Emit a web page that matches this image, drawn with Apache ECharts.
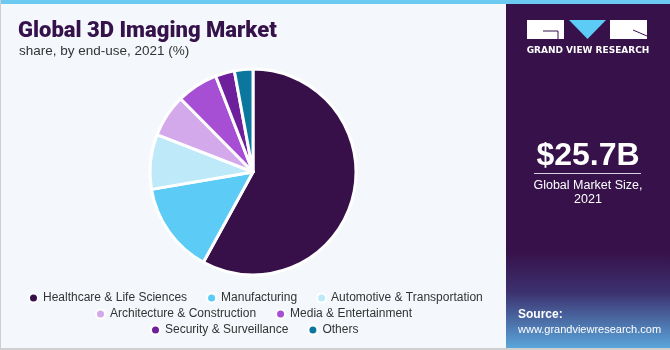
<!DOCTYPE html>
<html>
<head>
<meta charset="utf-8">
<script src="https://cdn.jsdelivr.net/npm/echarts@6/dist/echarts.min.js"></script>
<style>
  html, body { margin: 0; padding: 0; background: #f4f8fc; }
  #chart { width: 670px; height: 350px; }
</style>
</head>
<body>
<div id="chart"></div>
<script>
const categories = [
  'Healthcare & Life Sciences',
  'Manufacturing',
  'Automotive & Transportation',
  'Architecture & Construction',
  'Media & Entertainment',
  'Security & Surveillance',
  'Others',
];
const shares = [58.0, 14.3, 8.6, 6.7, 6.5, 3.0, 2.9];
const colors = ['#381049', '#5ccbf5', '#bde9f8', '#d4a9eb', '#a64fd5', '#6e1f9b', '#0b779f'];

const chart = echarts.init(document.getElementById('chart'));

// legend rows, centred under the pie by hand
const legendRow = (names, left, top) => ({
  data: names,
  left: left,
  top: top,
  icon: 'circle',
  itemWidth: 9,
  itemHeight: 9,
  itemGap: 19,
  textStyle: { fontFamily: 'Liberation Sans', fontSize: 12, color: '#333' },
});

const option = {
  backgroundColor: '#f4f8fc',
  color: colors,
  animation: false,
  title: [
    {
      text: 'Global 3D Imaging Market',
      left: 13,
      top: 15,
      textStyle: { fontFamily: 'Roboto', fontWeight: 900, fontSize: 22, color: '#36124a' },
    },
    {
      text: 'share, by end-use, 2021 (%)',
      left: 14,
      top: 39,
      textStyle: { fontFamily: 'Liberation Sans', fontWeight: 'normal', fontSize: 13.5, color: '#333' },
    },
  ],
  legend: [
    legendRow(categories.slice(0, 3), 23, 287),
    legendRow(categories.slice(3, 5), 90, 303),
    legendRow(categories.slice(5), 145, 319),
  ],
  series: [
    {
      type: 'pie',
      center: [253, 172],
      radius: [0, 103],
      startAngle: 90,
      clockwise: true,
      label: { show: false },
      labelLine: { show: false },
      itemStyle: { borderColor: '#ffffff', borderWidth: 3 },
      data: categories.map((c, i) => ({ name: c, value: shares[i] })),
    },
  ],
  graphic: [
    // top strip and frame
    { type: 'rect', shape: { x: 0, y: 0, width: 670, height: 4 }, style: { fill: '#6cc9f0' }, z: 10 },
    { type: 'rect', shape: { x: 0, y: 348, width: 670, height: 2 }, style: { fill: '#cfcfcf' }, z: 10 },
    { type: 'rect', shape: { x: 0, y: 0, width: 1, height: 350 }, style: { fill: '#cfcfcf' }, z: 10 },
    // right panel
    {
      type: 'rect',
      shape: { x: 506, y: 4, width: 164, height: 344 },
      style: {
        fill: new echarts.graphic.LinearGradient(0, 0, 0, 1, [
          { offset: 0, color: '#37114a' },
          { offset: 0.72, color: '#37114a' },
          { offset: 0.84, color: '#3c3270' },
          { offset: 1, color: '#5aa6da' },
        ]),
      },
      z: 5,
    },
    // logo
    { type: 'rect', shape: { x: 527, y: 20, width: 37, height: 19 }, style: { fill: '#ffffff' }, z: 6 },
    { type: 'polygon', shape: { points: [[569, 20], [606, 20], [587.5, 39]] }, style: { fill: '#5ccbf5' }, z: 6 },
    { type: 'rect', shape: { x: 610, y: 20, width: 37, height: 19 }, style: { fill: '#ffffff' }, z: 6 },
    { type: 'line', shape: { x1: 543, y1: 31, x2: 558, y2: 31 }, style: { stroke: '#37114a', lineWidth: 1 }, z: 7 },
    { type: 'line', shape: { x1: 558, y1: 31, x2: 558, y2: 39 }, style: { stroke: '#37114a', lineWidth: 1 }, z: 7 },
    { type: 'line', shape: { x1: 633, y1: 30, x2: 647, y2: 36 }, style: { stroke: '#37114a', lineWidth: 1 }, z: 7 },
    {
      type: 'text', x: 588, y: 46, z: 6,
      style: { text: 'GRAND VIEW RESEARCH', fill: '#ffffff', font: 'bold 9px "DejaVu Sans"', align: 'center', verticalAlign: 'top' },
    },
    {
      type: 'text', x: 588, y: 156, z: 6,
      style: { text: '$25.7B', fill: '#ffffff', font: 'bold 32px "Liberation Sans"', align: 'center', verticalAlign: 'middle' },
    },
    { type: 'line', shape: { x1: 534, y1: 173.5, x2: 641, y2: 173.5 }, style: { stroke: '#d9d0e0', lineWidth: 1 }, z: 6 },
    {
      type: 'text', x: 588, y: 179, z: 6,
      style: { text: 'Global Market Size,\n2021', fill: '#ffffff', font: '12.5px "Liberation Sans"', align: 'center', verticalAlign: 'top', lineHeight: 14 },
    },
    {
      type: 'text', x: 518, y: 309, z: 6,
      style: { text: 'Source:', fill: '#ffffff', font: 'bold 12px "Liberation Sans"', verticalAlign: 'top' },
    },
    {
      type: 'text', x: 518, y: 324, z: 6,
      style: { text: 'www.grandviewresearch.com', fill: '#ffffff', font: '11px "Liberation Sans"', verticalAlign: 'top' },
    },
  ],
};

chart.setOption(option);
</script>
</body>
</html>
